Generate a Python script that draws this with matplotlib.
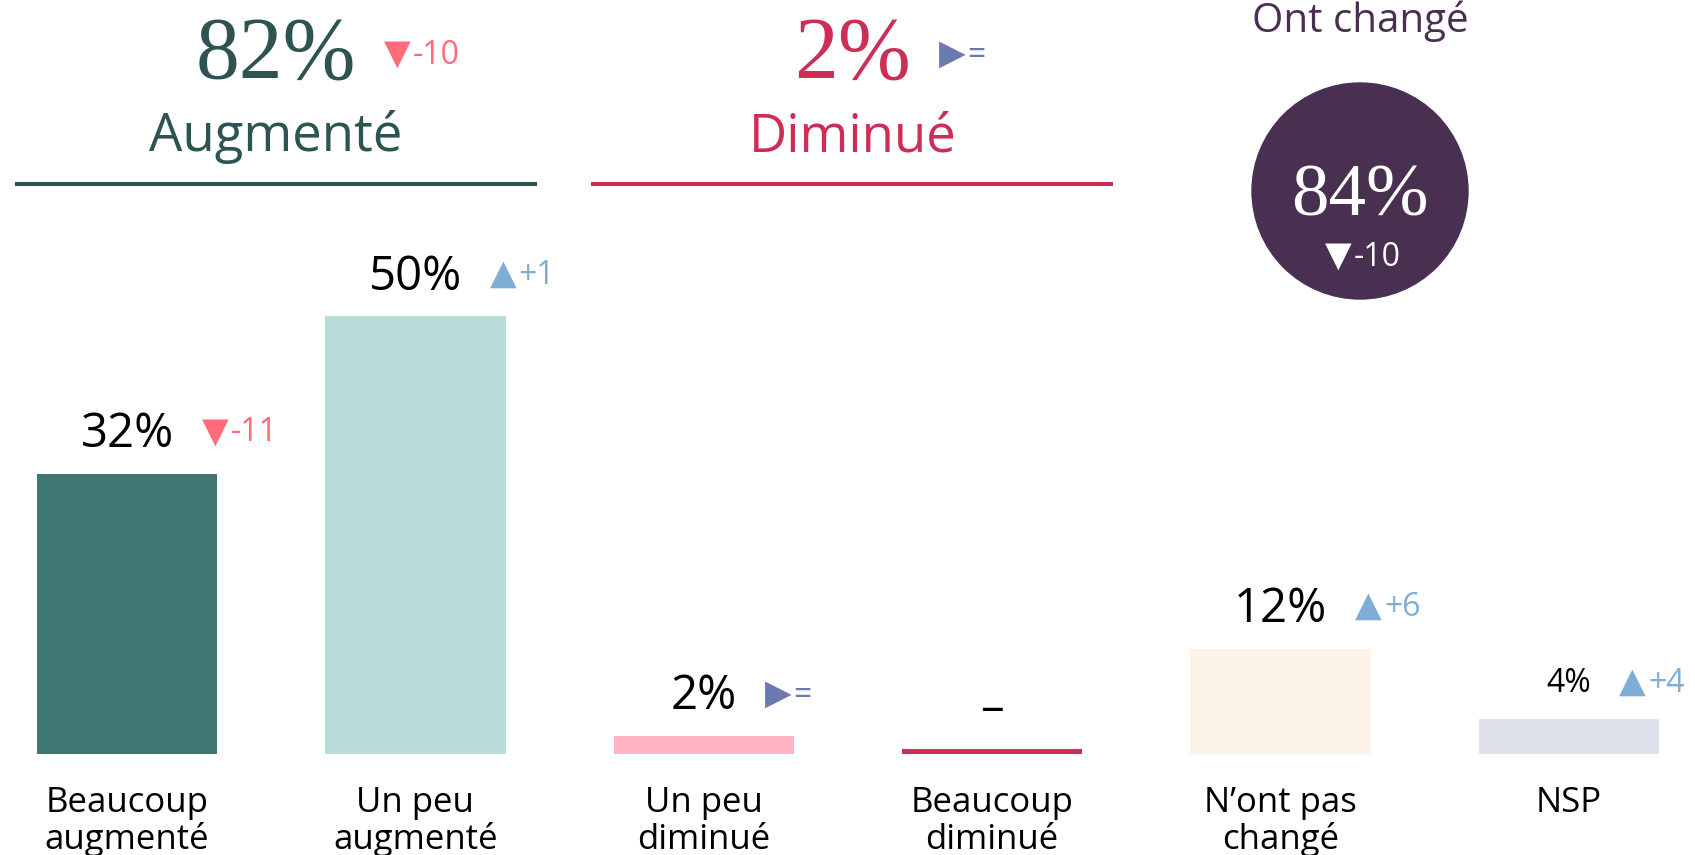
import matplotlib.pyplot as plt
from matplotlib.patches import Ellipse

W, H = 1695, 855

# données
categories = ["Beaucoup\naugmenté", "Un peu\naugmenté", "Un peu\ndiminué",
              "Beaucoup\ndiminué", "N’ont pas\nchangé", "NSP"]
values = [32, 50, 2, 0, 12, 4]
value_labels = ["32%", "50%", "2%", "–", "12%", "4%"]
deltas = ["▼-11", "▲+1", "▶=", "", "▲+6", "▲+4"]

groups = ["Augmenté", "Diminué"]
group_spans = [(0, 1), (2, 3)]
group_totals = ["82%", "2%"]
group_deltas = ["▼-10", "▶="]

changed_title = "Ont changé"
changed_total = "84%"
changed_delta = "▼-10"

# styles
bar_colors = ["#3f7873", "#b9dcdb", "#ffb3c4", "#cc2e55", "#fdf3e9", "#dfe1ec"]
label_sizes = [34, 34, 34, 34, 34, 23]
group_colors = ["#2d5450", "#cc2e55"]
purple = "#4a3050"
SANS = ["Open Sans", "DejaVu Sans"]
SERIF = ["Liberation Serif", "DejaVu Serif"]


def delta_color(d):
    if d.startswith("▼"):
        return "#ff6b7a"
    if d.startswith("▲"):
        return "#7fadd6"
    return "#6b7bb0"


def yf(y_top):
    # pixels depuis le haut -> fraction
    return 1 - y_top / H


def add_delta(d, xref, xval, yref, yval, dx, dy, color):
    # triangle (DejaVu) puis l'écart en chiffres, même ligne de base
    tri = ax.annotate(d[0], xy=(xval, yval), xycoords=(xref, yref), xytext=(dx, dy),
                      textcoords="offset pixels", ha="left", va="baseline",
                      fontsize=25, family="DejaVu Sans", color=color,
                      annotation_clip=False)
    ax.annotate(d[1:], xy=(1, yval), xycoords=(tri, yref), xytext=(2, dy),
                textcoords="offset pixels", ha="left", va="baseline",
                fontsize=23, family=SANS, color=color, annotation_clip=False)
    return tri


fig = plt.figure(figsize=(W / 100, H / 100), dpi=100)
ax = fig.add_axes([0, 0, 1, 1])
ax.axis("off")

step, x0 = 288.4, 127
px_pct, base = 8.74, 101.5

x = list(range(len(categories)))
heights = [v if v > 0 else 0.46 for v in values]
ax.bar(x, heights, width=0.626, color=bar_colors)

# étiquettes de valeurs + évolutions
for i, (lab, d) in enumerate(zip(value_labels, deltas)):
    fs = label_sizes[i]
    t = ax.annotate(lab, (i, heights[i]), xytext=(0, 27), textcoords="offset pixels",
                    ha="center", va="baseline", fontsize=fs, family=SANS, color="black")
    if d:
        lift = 0.357 * (fs - 23) * 100 / 72
        add_delta(d, t, 1, "data", heights[i], 28, 27 + lift, delta_color(d))

# noms des catégories
tr = ax.get_xaxis_transform()
for i, cat in enumerate(categories):
    for k, line in enumerate(cat.split("\n")):
        ax.text(i, yf(812 + 37 * k), line, transform=tr, ha="center", va="baseline",
                fontsize=25, family=SANS, color="black")

# en-têtes des groupes
for (a, b), name, tot, d, c in zip(group_spans, groups, group_totals, group_deltas, group_colors):
    xc = (a + b) / 2 + 0.015
    ax.plot([xc - 0.905, xc + 0.905], [yf(184)] * 2, transform=tr, color=c, lw=2.9,
            solid_capstyle="butt", clip_on=False)
    ht = ax.text(xc, yf(78), tot, transform=tr, ha="center", va="baseline",
                 fontsize=63, family=SERIF, color=c)
    add_delta(d, ht, 1, "axes fraction", yf(64), 28, 0, delta_color(d))
    ax.text(xc, yf(151), name, transform=tr, ha="center", va="baseline",
            fontsize=38, family=SANS, color=c)

# bulle "Ont changé"
fig.text(1360 / W, yf(32), changed_title, ha="center", va="baseline",
         fontsize=29, family=SANS, color=purple)
fig.add_artist(Ellipse((1360 / W, yf(191)), 216 / W, 216 / H,
                       transform=fig.transFigure, color=purple, zorder=0.5))
fig.text(1360 / W, yf(216), changed_total, ha="center", va="baseline",
         fontsize=54, family=SERIF, color="white")
ax.set_zorder(1)
ax.patch.set_visible(False)
add_delta(changed_delta, "axes fraction", 1325 / W, "axes fraction", yf(266), 0, 0, "white")

ax.set_xlim(-x0 / step, (W - x0) / step)
ax.set_ylim(-base / px_pct, (H - base) / px_pct)

fig.savefig("out.png", dpi=100)
